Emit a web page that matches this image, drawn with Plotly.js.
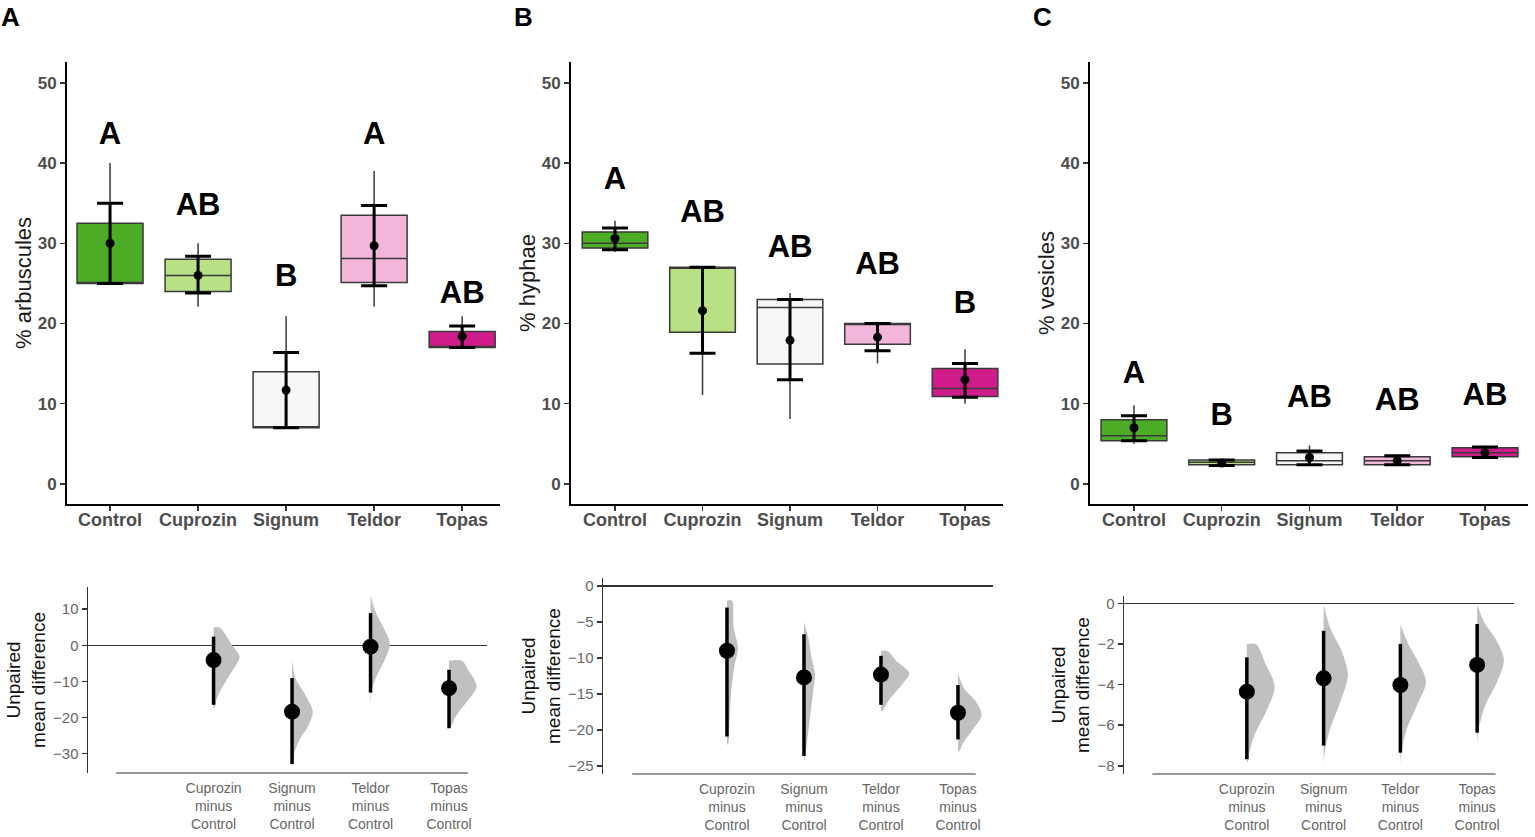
<!DOCTYPE html>
<html><head><meta charset="utf-8">
<script src="https://cdn.plot.ly/plotly-3.0.1.min.js"></script>
<style>html,body{margin:0;padding:0;background:#fff}#chart{width:1535px;height:837px}</style>
</head><body><div id="chart"></div><script>
// ---------- data ----------
const groups = ['Control','Cuprozin','Signum','Teldor','Topas'];
const boxColors = ['#4DAC26','#B8E186','#F7F7F7','#F1B6DA','#D01C8B'];

// Panel A: % arbuscules
const arbQ1 = [25, 24, 7, 25.1, 17];
const arbMedian = [25, 26, 7, 28.1, 17];
const arbQ3 = [32.5, 28, 14, 33.5, 19];
const arbLow = [25, 22.1, 7, 22.1, 17];
const arbHigh = [40, 30, 20.9, 39, 20.9];
const arbMean = [30, 26, 11.7, 29.7, 18.4];
const arbSdLow = [25, 23.8, 7, 24.7, 17];
const arbSdHigh = [35, 28.4, 16.4, 34.7, 19.7];
const arbLetters = ['A','AB','B','A','AB'];
const arbLetterY = [43.3, 34.5, 25.6, 43.4, 23.5];

// Panel B: % hyphae
const hypQ1 = [29.4, 18.9, 14.95, 17.4, 10.9];
const hypMedian = [30, 27, 22, 20, 11.9];
const hypQ3 = [31.4, 27, 23, 20, 14.4];
const hypLow = [28.9, 11.1, 8.1, 15.0, 10.0];
const hypHigh = [32.8, 27, 23.8, 20, 16.8];
const hypMean = [30.6, 21.6, 17.9, 18.3, 13.0];
const hypSdLow = [29.2, 16.3, 13.0, 16.6, 10.8];
const hypSdHigh = [31.9, 27.0, 23.0, 20.0, 15.0];
const hypLetters = ['A','AB','AB','AB','B'];
const hypLetterY = [37.7, 33.6, 29.2, 27.1, 22.3];

// Panel C: % vesicles
const vesQ1 = [5.4, 2.4, 2.4, 2.4, 3.4];
const vesMedian = [6.0, 2.7, 2.9, 2.9, 3.9];
const vesQ3 = [8.0, 3.0, 3.9, 3.4, 4.5];
const vesLow = [5.0, 2.4, 2.4, 2.2, 3.1];
const vesHigh = [9.8, 3.0, 4.8, 3.7, 4.8];
const vesMean = [7.0, 2.6, 3.3, 2.9, 3.9];
const vesSdLow = [5.4, 2.3, 2.4, 2.4, 3.3];
const vesSdHigh = [8.5, 3.0, 4.1, 3.5, 4.6];
const vesLetters = ['A','B','AB','AB','AB'];
const vesLetterY = [13.6, 8.3, 10.6, 10.2, 10.8];

// Estimation plots (mean difference vs Control, 95% CI)
const contrasts = ['Cuprozin<br>minus<br>Control','Signum<br>minus<br>Control','Teldor<br>minus<br>Control','Topas<br>minus<br>Control'];
const contrastIdx = [1, 2, 3, 4];

const arbDiff = [-4.1, -18.4, -0.4, -11.9];
const arbCiLow = [-16.5, -32.9, -13.1, -23.0];
const arbCiHigh = [2.4, -9.1, 8.9, -6.8];
const arbDensY = [
  [4.9, 0.1, -3.2, -7.3, -11.0, -14.7, -17.5],
  [-4.1, -9.1, -13.8, -18.4, -22.1, -25.8, -29.5, -33.2],
  [13.9, 9.3, 4.7, 0.55, -3.6, -7.3, -11.9, -17.5],
  [-4.3, -6.8, -11.4, -16.1, -19.8, -22.5]
];
const arbDensW = [
  [6, 18.3, 26, 18.3, 10, 3.3, 0.7],
  [0, 3.3, 13.3, 20.7, 16.7, 8.3, 2.7, 0.7],
  [0, 5, 13.3, 19.3, 15, 8.3, 1.7, 0],
  [13, 19, 27.5, 16.6, 6.6, 1.6]
];

const hypDiff = [-9.0, -12.7, -12.3, -17.6];
const hypCiLow = [-20.9, -23.6, -16.5, -21.3];
const hypCiHigh = [-3.0, -6.7, -9.7, -13.75];
const hypDensY = [
  [-2.04, -5.8, -8.6, -10.9, -14.6, -18.3, -22.0],
  [-5.0, -7.2, -10.0, -12.3, -14.6, -18.3, -22.0, -24.3],
  [-9.0, -10.5, -12.1, -13.7, -15.6, -17.4],
  [-12.1, -14.2, -16.0, -17.9, -19.7, -21.6, -23.0]
];
const hypDensW = [
  [5, 6.7, 11, 7.7, 4.3, 2.7, 1],
  [0, 4.3, 7.7, 11, 9.3, 6, 2.7, 0.3],
  [6, 16, 28.3, 21, 9.3, 1],
  [0, 6, 17.7, 23.7, 16, 6, 1]
];

const vesDiff = [-4.35, -3.69, -4.02, -3.03];
const vesCiLow = [-7.67, -7.0, -7.35, -6.37];
const vesCiHigh = [-2.66, -1.35, -2.0, -1.02];
const vesDensY = [
  [-2.02, -2.87, -4.1, -5.33, -6.48, -7.3, -7.8],
  [-0.05, -1.23, -2.38, -3.53, -4.84, -6.15, -7.13, -7.95],
  [-1.03, -2.05, -2.87, -3.86, -5.0, -6.15, -7.13, -7.95],
  [-0.05, -0.9, -1.89, -2.79, -3.86, -5.0, -6.15, -6.97]
];
const vesDensW = [
  [9.3, 17.7, 27.7, 19.3, 7.7, 2.7, 1],
  [0, 6.7, 18.3, 24.3, 16.7, 6.7, 1.7, 0],
  [0, 8.3, 17.7, 25.7, 16.7, 6.7, 1.7, 0],
  [0, 6.7, 20, 26.7, 20, 8.3, 1.7, 0]
];

// ---------- build ----------
const FONT = 'Liberation Sans, Arial, sans-serif';
const W = 1535, H = 837;
const px = v => v / W;
const py = v => 1 - v / H;
const traces = [];

function topPanel(ax, q1, med, q3, lo, hi, mean, sdLo, sdHi, letters, letterY) {
  const xa = 'x' + ax, ya = 'y' + ax;
  groups.forEach((g, i) => {
    traces.push({
      type: 'box', x: [g], q1: [q1[i]], median: [med[i]], q3: [q3[i]],
      lowerfence: [lo[i]], upperfence: [hi[i]],
      fillcolor: boxColors[i], line: {color: '#3a3a3a', width: 1.5},
      whiskerwidth: 0, width: 0.75, boxpoints: false, showlegend: false,
      hoverinfo: 'skip', xaxis: xa, yaxis: ya
    });
  });
  traces.push({
    type: 'scatter', mode: 'markers', x: groups, y: mean,
    marker: {color: '#000', size: 9},
    error_y: {type: 'data', symmetric: false,
      array: sdHi.map((v, i) => v - mean[i]),
      arrayminus: sdLo.map((v, i) => mean[i] - v),
      color: '#000', thickness: 3, width: 13},
    showlegend: false, hoverinfo: 'skip', xaxis: xa, yaxis: ya
  });
  traces.push({
    type: 'scatter', mode: 'text', x: groups, y: letterY, text: letters,
    textposition: 'middle center',
    textfont: {family: FONT, size: 31, color: '#000', weight: 'bold'},
    showlegend: false, hoverinfo: 'skip', xaxis: xa, yaxis: ya
  });
}

function bottomPanel(ax, diff, ciLo, ciHi, densY, densW, spacing) {
  const xa = 'x' + ax, ya = 'y' + ax;
  contrastIdx.forEach((c, i) => {
    const xs = [c], ys = [densY[i][0]];
    densY[i].forEach((y, k) => { xs.push(c + densW[i][k] / spacing); ys.push(y); });
    xs.push(c); ys.push(densY[i][densY[i].length - 1]);
    traces.push({
      type: 'scatter', mode: 'lines', x: xs, y: ys, fill: 'toself',
      fillcolor: '#c0c0c0', line: {width: 0, shape: 'spline', smoothing: 0.9},
      showlegend: false, hoverinfo: 'skip', xaxis: xa, yaxis: ya
    });
  });
  traces.push({
    type: 'scatter', mode: 'markers', x: contrastIdx, y: diff,
    marker: {color: '#000', size: 16},
    error_y: {type: 'data', symmetric: false,
      array: ciHi.map((v, i) => v - diff[i]),
      arrayminus: ciLo.map((v, i) => diff[i] - v),
      color: '#000', thickness: 3.5, width: 0},
    showlegend: false, hoverinfo: 'skip', xaxis: xa, yaxis: ya
  });
}

topPanel('', arbQ1, arbMedian, arbQ3, arbLow, arbHigh, arbMean, arbSdLow, arbSdHigh, arbLetters, arbLetterY);
topPanel('2', hypQ1, hypMedian, hypQ3, hypLow, hypHigh, hypMean, hypSdLow, hypSdHigh, hypLetters, hypLetterY);
topPanel('3', vesQ1, vesMedian, vesQ3, vesLow, vesHigh, vesMean, vesSdLow, vesSdHigh, vesLetters, vesLetterY);
bottomPanel('4', arbDiff, arbCiLow, arbCiHigh, arbDensY, arbDensW, 78.5);
bottomPanel('5', hypDiff, hypCiLow, hypCiHigh, hypDensY, hypDensW, 77);
bottomPanel('6', vesDiff, vesCiLow, vesCiHigh, vesDensY, vesDensW, 76.7);

function topX(anchor, l, r, range) {
  return {domain: [px(l), px(r)], range: range, anchor: anchor, type: 'category', categoryorder: 'array', categoryarray: groups,
    showline: true, linecolor: '#000', linewidth: 2, ticks: 'outside', ticklen: 5, tickcolor: '#333', tickwidth: 1.5,
    ticklabelstandoff: -7,
    tickfont: {family: FONT, size: 18, color: '#4d4d4d', weight: 'bold'},
    showgrid: false, zeroline: false, fixedrange: true};
}
function topY(anchor, title) {
  return {domain: [py(504), py(62)], range: [-2.5, 52.6], anchor: anchor,
    tickvals: [0, 10, 20, 30, 40, 50], showline: true, linecolor: '#000', linewidth: 2,
    ticks: 'outside', ticklen: 5, tickcolor: '#333', tickwidth: 1.5,
    tickfont: {family: FONT, size: 17, color: '#4d4d4d', weight: 'bold'},
    title: {text: title, font: {family: FONT, size: 22, color: '#1a1a1a'}, standoff: 0},
    showgrid: false, zeroline: false, fixedrange: true};
}
function botX(anchor, l, r, range) {
  return {domain: [px(l), px(r)], range: range, anchor: anchor, type: 'linear',
    tickvals: contrastIdx, ticktext: contrasts, ticks: '', showline: false,
    ticklabelstandoff: 5,
    tickfont: {family: FONT, size: 14, color: '#666'},
    showgrid: false, zeroline: false, fixedrange: true};
}
function botY(anchor, top, bottom, range, dtick) {
  return {domain: [py(bottom), py(top)], range: range, anchor: anchor, dtick: dtick,
    showline: true, linecolor: '#333', linewidth: 1.5,
    ticks: 'outside', ticklen: 5, tickcolor: '#333', tickwidth: 1.5,
    tickfont: {family: FONT, size: 15, color: '#666'},
    title: {text: 'Unpaired<br>mean difference', font: {family: FONT, size: 19, color: '#111'}, standoff: 2},
    showgrid: false, zeroline: true, zerolinecolor: '#333', zerolinewidth: 1.5, fixedrange: true};
}

const layout = {
  width: W, height: H, margin: {l: 0, r: 0, t: 0, b: 0},
  paper_bgcolor: '#fff', plot_bgcolor: 'rgba(0,0,0,0)', showlegend: false, boxmode: 'overlay',
  font: {family: FONT},
  xaxis: topX('y', 67, 500, [-0.489, 4.43]), yaxis: topY('x', '% arbuscules'),
  xaxis2: topX('y2', 571, 1003, [-0.503, 4.434]), yaxis2: topY('x2', '% hyphae'),
  xaxis3: topX('y3', 1090, 1528, [-0.501, 4.49]), yaxis3: topY('x3', '% vesicles'),
  xaxis4: botX('y4', 88, 487, [-0.6, 4.484]), yaxis4: botY('x4', 587, 773, [-35.4, 16.15], 10),
  xaxis5: botX('y5', 603, 993, [-0.61, 4.455]), yaxis5: botY('x5', 578, 774, [-26.1, 1.1], 5),
  xaxis6: botX('y6', 1124, 1514, [-0.6, 4.48]), yaxis6: botY('x6', 596, 774, [-8.4, 0.36], 2),
  shapes: [
    {type: 'line', xref: 'x4', yref: 'y4 domain', x0: -0.24, x1: 4.24, y0: 0, y1: 0, line: {color: '#777', width: 1.5}},
    {type: 'line', xref: 'x5', yref: 'y5 domain', x0: -0.23, x1: 4.23, y0: 0, y1: 0, line: {color: '#777', width: 1.5}},
    {type: 'line', xref: 'x6', yref: 'y6 domain', x0: -0.23, x1: 4.24, y0: 0, y1: 0, line: {color: '#777', width: 1.5}}
  ],
  annotations: [
    {text: 'A', x: px(10), y: py(17), xref: 'paper', yref: 'paper', xanchor: 'center', yanchor: 'middle', showarrow: false, font: {family: FONT, size: 26, color: '#000', weight: 'bold'}},
    {text: 'B', x: px(523), y: py(17), xref: 'paper', yref: 'paper', xanchor: 'center', yanchor: 'middle', showarrow: false, font: {family: FONT, size: 26, color: '#000', weight: 'bold'}},
    {text: 'C', x: px(1042), y: py(17), xref: 'paper', yref: 'paper', xanchor: 'center', yanchor: 'middle', showarrow: false, font: {family: FONT, size: 26, color: '#000', weight: 'bold'}}
  ]
};

Plotly.newPlot('chart', traces, layout, {displayModeBar: false, staticPlot: true});
</script></body></html>
